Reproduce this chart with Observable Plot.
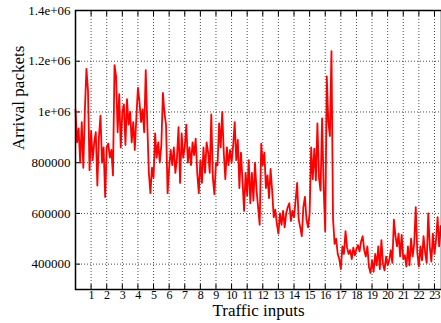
<!DOCTYPE html>
<html><head><meta charset="utf-8">
<script src="https://cdn.jsdelivr.net/npm/d3@7"></script>
<script src="https://cdn.jsdelivr.net/npm/@observablehq/plot@0.6"></script>
<style>
html,body{margin:0;padding:0;background:#fff;}
#chart svg{display:block;}
#chart g[aria-label="x-axis tick label"] text{letter-spacing:-0.7px;}
</style></head><body><div id="chart"></div>
<script>
// spacing (in traffic-input units) between successive samples
const sampleStep = 0.1;
// arrival packets, in thousands, one value per sample
const arrivalsK = [
  1010, 880, 935, 800, 960, 780, 1005, 1170, 1085, 770, 925,
  810, 880, 920, 710, 900, 985, 800, 860, 665, 860,
  875, 820, 850, 750, 1185, 1140, 920, 1070, 860, 1000,
  1030, 870, 1050, 950, 1000, 880, 960, 850, 980, 1095,
  1040, 960, 1010, 920, 1165, 950, 760, 680, 780, 740,
  915, 820, 880, 800, 870, 1075, 995, 950, 680, 780,
  850, 790, 860, 760, 820, 940, 720, 915, 820, 860,
  950, 800, 860, 790, 880, 830, 895, 760, 680, 810,
  720, 860, 760, 880, 840, 760, 990, 740, 675, 800,
  790, 955, 860, 1000, 840, 735, 860, 790, 850, 800,
  865, 960, 810, 890, 700, 840, 730, 610, 760, 670,
  810, 640, 760, 650, 800, 690, 625, 555, 875, 790,
  840, 700, 750, 660, 775, 690, 585, 615, 560, 520,
  600, 555, 610, 545, 600, 625, 640, 570, 610, 585,
  650, 720, 575, 545, 510, 625, 665, 575, 545, 600,
  860, 735, 855, 730, 955, 740, 690, 975, 700, 530,
  1140, 960, 905, 1240, 580, 480, 500, 440, 420, 380,
  470, 440, 530, 465, 440, 455, 420, 465, 435, 460,
  475, 450, 490, 510, 455, 430, 470, 390, 365, 415,
  370, 440, 395, 470, 380, 495, 400, 375, 430, 395,
  415, 455, 405, 575, 510, 470, 520, 430, 515, 420,
  435, 390, 470, 395, 500, 430, 480, 625, 445, 390,
  470, 415, 510, 445, 405, 600, 470, 410, 520, 440, 495, 585, 470, 550
];
const xTicks = [1,2,3,4,5,6,7,8,9,10,11,12,13,14,15,16,17,18,19,20,21,22,23];
const yTicks = [400000, 600000, 800000, 1000000, 1200000, 1400000];
const yTickLabels = ["400000", "600000", "800000", "1e+06", "1.2e+06", "1.4e+06"];
const xLabel = "Traffic inputs";
const yLabel = "Arrival packets";

const data = arrivalsK.map((v, i) => ({t: i * sampleStep, packets: v * 1000}));

const gridStyle = {stroke: "#000", strokeOpacity: 0.7, strokeDasharray: "1,2", strokeWidth: 1};

const chart = Plot.plot({
  width: 441, height: 323,
  marginLeft: 75, marginRight: 0, marginTop: 10, marginBottom: 34,
  style: {fontFamily: "'Liberation Serif', 'Times New Roman', serif", fontSize: "13px", color: "#000", background: "#fff"},
  x: {domain: [0, 23.45]},
  y: {domain: [300000, 1400000]},
  marks: [
    Plot.gridX(xTicks, gridStyle),
    Plot.gridY(yTicks, gridStyle),
    Plot.axisX(xTicks, {tickSize: 0, tickPadding: 1, label: null, fontSize: 12}),
    Plot.axisY(yTicks, {tickSize: 0, tickPadding: 5, label: null, fontSize: 13,
      tickFormat: d => yTickLabels[yTicks.indexOf(d)]}),
    Plot.axisX(xTicks, {anchor: "bottom", tickSize: 5, dy: -5, tickFormat: () => "", label: null}),
    Plot.axisX(xTicks, {anchor: "top", tickSize: 5, dy: 5, tickFormat: () => "", label: null}),
    Plot.axisY(yTicks, {anchor: "left", tickSize: 5, dx: 5, tickFormat: () => "", label: null}),
    Plot.line(data, {x: "t", y: "packets", stroke: "#ff0000", strokeWidth: 1.8}),
    Plot.frame({stroke: "#000", strokeWidth: 1.5}),
    Plot.text([xLabel], {frameAnchor: "bottom", lineAnchor: "middle", dy: 21, fontSize: 17}),
    Plot.text([yLabel], {frameAnchor: "left", lineAnchor: "middle", dx: -57, rotate: -90, fontSize: 17})
  ]
});
document.getElementById("chart").appendChild(chart);
</script>
</body></html>
